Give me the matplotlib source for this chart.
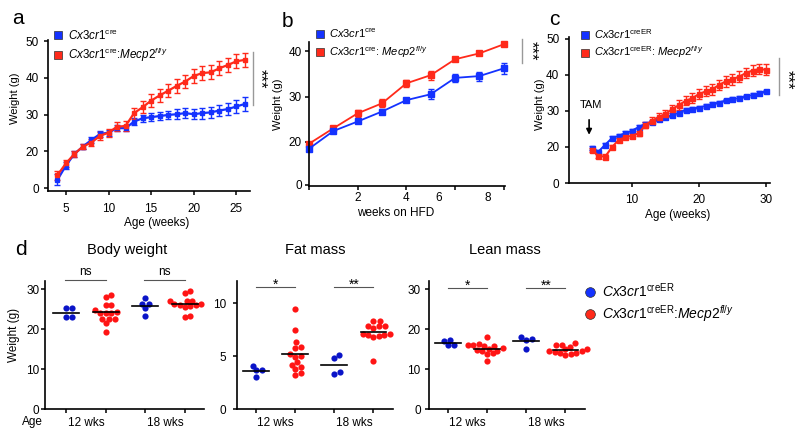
import numpy as np
import matplotlib
matplotlib.use('Agg')
import matplotlib.pyplot as plt
from matplotlib.lines import Line2D
from matplotlib.transforms import ScaledTranslation

plt.rcParams['font.family'] = ['Liberation Sans', 'DejaVu Sans']
plt.rcParams['mathtext.fontset'] = 'custom'
plt.rcParams['mathtext.rm'] = 'Liberation Sans'
plt.rcParams['mathtext.it'] = 'Liberation Sans:italic'
plt.rcParams['mathtext.bf'] = 'Liberation Sans:bold'

BLUE = '#1432ff'
RED = '#ff2a1a'
DOT_BLUE = '#0a14c8'
DOT_RED = '#ff1414'

# --- panel a: body weight on chow ---
weeks_a = np.arange(4, 27)
blue_a = [12.2, 16.1, 19.3, 21.3, 23.1, 24.7, 25.1, 26.3, 26.3, 28.1, 29.0, 29.3,
          29.6, 29.9, 30.1, 30.4, 30.1, 30.4, 30.6, 31.1, 31.5, 32.2, 32.9]
blue_a_err = [1.5, 1.0, 0.8, 0.8, 0.8, 0.8, 0.8, 0.8, 0.9, 1.0, 1.0, 1.1,
              1.2, 1.2, 1.3, 1.3, 1.4, 1.5, 1.5, 1.6, 1.7, 1.8, 1.8]
red_a = [13.5, 16.7, 19.3, 21.3, 22.4, 24.2, 25.1, 26.7, 26.9, 30.4, 32.0, 33.8,
         35.2, 36.5, 37.8, 39.0, 40.5, 41.3, 41.5, 42.6, 43.5, 44.5, 44.9]
red_a_err = [1.2, 0.9, 0.8, 0.8, 0.9, 1.0, 1.1, 1.2, 1.4, 1.5, 1.6, 1.7,
             1.7, 1.8, 1.8, 1.8, 1.8, 1.8, 1.9, 1.9, 1.9, 1.9, 1.9]

# --- panel b: high fat diet ---
weeks_b = np.arange(0, 9)
blue_b = [18.5, 22.4, 24.5, 26.7, 29.2, 30.5, 34.1, 34.5, 36.2]
blue_b_err = [0.6, 0.4, 0.4, 0.5, 0.5, 1.1, 0.9, 1.0, 1.2]
red_b = [19.6, 23.0, 26.3, 28.5, 32.9, 34.7, 38.2, 39.5, 41.5]
red_b_err = [0.4, 0.4, 0.8, 0.9, 0.7, 1.0, 0.4, 0.4, 0.4]

# --- panel c: tamoxifen induced ---
weeks_c = np.arange(4, 31)
blue_c = [19.7, 18.7, 20.6, 22.4, 23.1, 23.8, 24.5, 25.5, 26.4, 26.9, 27.7, 28.2, 28.8, 29.5,
          30.3, 30.6, 30.9, 31.4, 31.9, 32.3, 32.9, 33.3, 33.5, 34.0, 34.4, 34.9, 35.4]
blue_c_err = [0.5] * 27
red_c = [19.2, 17.5, 17.3, 19.9, 21.9, 22.7, 23.1, 23.8, 26.1, 27.3, 28.3, 29.2, 30.5, 31.6,
         32.8, 33.5, 34.7, 35.4, 36.0, 37.2, 38.2, 38.8, 39.5, 40.5, 41.2, 41.6, 41.4]
red_c_err = [0.5, 0.6, 0.7, 0.6, 0.6, 0.6, 0.7, 0.7, 0.8, 0.9, 1.0, 1.1, 1.2, 1.3,
             1.3, 1.4, 1.4, 1.4, 1.5, 1.5, 1.5, 1.5, 1.5, 1.5, 1.5, 1.5, 1.5]

# --- panel d: body composition (12 wks, 18 wks) ---
body_blue_12 = [25.2, 25.2, 22.9, 22.9]
body_red_12 = [28.1, 28.4, 25.9, 26.0, 24.7, 24.2, 24.1, 24.0, 24.1, 22.6, 22.6, 22.6, 21.5, 19.3]
body_blue_18 = [27.7, 26.2, 26.3, 25.2, 23.2]
body_red_18 = [29.6, 29.1, 27.1, 26.9, 27.1, 26.3, 25.9, 25.6, 25.8, 26.2, 26.0, 23.1, 23.2]
fat_blue_12 = [3.7, 3.7, 3.0, 4.1]
fat_red_12 = [9.5, 7.5, 6.3, 5.8, 5.9, 5.2, 4.9, 5.0, 4.4, 4.2, 4.0, 3.8, 3.2, 3.4]
fat_blue_18 = [4.8, 5.1, 3.3, 3.5]
fat_red_18 = [8.3, 8.3, 7.8, 7.8, 7.7, 7.8, 7.0, 7.1, 6.8, 7.0, 7.1, 6.9, 4.5]
lean_blue_12 = [16.9, 16.0, 16.0, 17.3]
lean_red_12 = [17.9, 16.3, 16.0, 15.8, 15.9, 15.7, 15.2, 15.0, 14.8, 14.6, 14.4, 13.9, 13.7, 12.0]
lean_blue_18 = [17.9, 17.6, 17.3, 15.1]
lean_red_18 = [16.4, 15.9, 15.6, 16.1, 15.0, 14.9, 14.6, 14.5, 14.3, 14.1, 14.0, 13.7, 13.4]

CX_CRE = r'$\mathit{Cx3cr1}^{\mathrm{cre}}$'
CX_CREER = r'$\mathit{Cx3cr1}^{\mathrm{creER}}$'
MECP = r'$\mathit{Mecp2}^{\mathit{fl/y}}$'
lab_cre_mecp = CX_CRE + ':' + MECP
lab_cre_mecp_sp = CX_CRE + ': ' + MECP
lab_creer_mecp_sp = CX_CREER + ': ' + MECP
lab_creer_mecp = CX_CREER + ':' + MECP

W, H = 800, 438
fig = plt.figure(figsize=(8, 4.38), dpi=100)


def px_axes(x0, y0, x1, y1):
    return fig.add_axes([x0 / W, 1 - y1 / H, (x1 - x0) / W, (y1 - y0) / H])


def style(ax, fs=8.5):
    for s in ('top', 'right'):
        ax.spines[s].set_visible(False)
    for s in ('left', 'bottom'):
        ax.spines[s].set_linewidth(1.2)
    ax.tick_params(length=3, width=1.1, labelsize=fs, direction='out')


def add_legend(ax, handles, labels, x, y, fs, spacing):
    ax.legend(handles, labels, loc='upper left', bbox_to_anchor=(x / W, 1 - y / H),
              bbox_transform=fig.transFigure, frameon=False, fontsize=fs,
              handlelength=0.7, handletextpad=0.5, labelspacing=spacing,
              borderpad=0, borderaxespad=0)


def square_handles(ms):
    return [Line2D([], [], ls='', marker='s', ms=ms, mfc=c, mec='#303030', mew=0.5)
            for c in (BLUE, RED)]


def curve(ax, x, y, err, color, ms, lw):
    ax.errorbar(x, y, yerr=err, color=color, marker='s', ms=ms, lw=lw, capsize=2,
                elinewidth=1, capthick=1, clip_on=False)


def sig_vertical(ax, x, y0, y1, xs, ys):
    ax.plot([x, x], [y0, y1], color='#999999', lw=1, clip_on=False)
    ax.text(xs, ys, '***', rotation=270, ha='center', va='center', fontsize=12,
            clip_on=False)


# ---------------- panel a ----------------
ax = px_axes(48, 40, 250, 191)
style(ax)
curve(ax, weeks_a, blue_a, blue_a_err, BLUE, 3.2, 1.6)
curve(ax, weeks_a, red_a, red_a_err, RED, 3.2, 1.6)
ax.set_xlim(2.9, 26.6)
ax.set_ylim(9.2, 50.3)
ax.set_xticks([5, 10, 15, 20, 25])
ax.set_yticks([10, 20, 30, 40, 50], ['0', '20', '30', '40', '50'])
ax.tick_params(axis='x', pad=6)
ax.set_xlabel('Age (weeks)', fontsize=8.5)
ax.set_ylabel('Weight (g)', fontsize=8)
ax.xaxis.set_label_coords(0.54, -0.172)
ax.yaxis.set_label_coords(-0.139, 0.616)
sig_vertical(ax, 27.0, 32.6, 47.0, 27.8, 39.8)
add_legend(ax, square_handles(6), [CX_CRE, lab_cre_mecp], 54, 28, 8.4, 0.3)

# ---------------- panel b ----------------
ax = px_axes(309, 42, 505, 186)
style(ax)
curve(ax, weeks_b, red_b, red_b_err, RED, 4.2, 1.3)
curve(ax, weeks_b, blue_b, blue_b_err, BLUE, 4.2, 1.3)
ax.set_xlim(0, 8.05)
ax.set_ylim(10.3, 42.0)
ax.set_xticks([0, 2, 4, 6, 8], ['', '2', '4', '6', '8'])
ax.set_yticks([10.6, 20, 30, 40], ['0', '20', '30', '40'])
ax.tick_params(axis='x', pad=1)
ax.tick_params(axis='y', pad=2)
shift = ScaledTranslation(-0.16, 0, fig.dpi_scale_trans)
for lbl in ax.get_xticklabels()[3:]:
    lbl.set_transform(lbl.get_transform() + shift)
ax.set_xlabel('weeks on HFD', fontsize=8.5)
ax.set_ylabel('Weight (g)', fontsize=8)
ax.xaxis.set_label_coords(0.44, -0.146)
ax.yaxis.set_label_coords(-0.133, 0.57)
sig_vertical(ax, 8.73, 37.4, 42.6, 9.14, 40.0)
add_legend(ax, square_handles(6), [CX_CRE, lab_cre_mecp_sp], 316, 27, 8, 0.35)

# ---------------- panel c ----------------
ax = px_axes(569, 37, 770, 183)
style(ax)
curve(ax, weeks_c, blue_c, blue_c_err, BLUE, 3.6, 1.5)
curve(ax, weeks_c, red_c, red_c_err, RED, 3.6, 1.5)
ax.set_xlim(0.6, 30.6)
ax.set_ylim(10, 50.5)
ax.set_xticks([10, 20, 30])
ax.set_yticks([10, 20, 30, 40, 50], ['0', '20', '30', '40', '50'])
ax.tick_params(axis='x', pad=5)
ax.tick_params(axis='y', pad=4)
ax.set_xlabel('Age (weeks)', fontsize=8.5)
ax.set_ylabel('Weight (g)', fontsize=8)
ax.xaxis.set_label_coords(0.542, -0.175)
ax.yaxis.set_label_coords(-0.118, 0.54)
sig_vertical(ax, 31.9, 34.4, 44.7, 33.1, 38.6)
ax.text(3.9, 31.7, 'TAM', ha='center', va='center', fontsize=8)
ax.annotate('', xy=(3.6, 22.6), xytext=(3.6, 28.3),
            arrowprops=dict(arrowstyle='-|>', color='black', lw=1.2, mutation_scale=8))
add_legend(ax, square_handles(6), [CX_CREER, lab_creer_mecp_sp], 581, 27, 8, 0.35)


# ---------------- panel d ----------------
def swarm_offsets(vals, ppu_x, ppu_y, diam=5.4, step=0.6):
    vals = np.asarray(vals, dtype=float)
    order = np.argsort(vals)
    placed = []
    offs = np.zeros(len(vals))
    cands = [0.0]
    for k in range(1, 80):
        cands += [k * step, -k * step]
    for i in order:
        y = vals[i] * ppu_y
        for c in cands:
            if all((c - px) ** 2 + (y - py) ** 2 >= diam ** 2 for px, py in placed):
                break
        placed.append((c, y))
        offs[i] = c / ppu_x
    return offs


def dot_panel(ax, groups, ppu_x, ppu_y):
    colors = [DOT_BLUE, DOT_RED, DOT_BLUE, DOT_RED]
    for pos, vals, col in zip([1, 2, 3, 4], groups, colors):
        offs = swarm_offsets(vals, ppu_x, ppu_y)
        ax.scatter(pos + offs, vals, s=20, color=col, lw=0, zorder=3, clip_on=False)
        ax.plot([pos - 0.33, pos + 0.33], [np.mean(vals)] * 2, color='black', lw=1.2, zorder=4)
    ax.set_xticks([1, 2, 3, 4], [])
    ax.set_xticks([1.5, 3.5], ['12 wks', '18 wks'], minor=True)
    ax.tick_params(axis='x', which='minor', length=0, pad=6, labelsize=8.5)


def sig_bar(ax, x0, x1, y, text, ty, fs):
    ax.plot([x0, x1], [y, y], color='#555555', lw=0.8, clip_on=False)
    ax.text((x0 + x1) / 2, ty, text, ha='center', va='center', fontsize=fs, clip_on=False)


ax = px_axes(45, 281, 204, 409)
style(ax)
dot_panel(ax, [body_blue_12, body_red_12, body_blue_18, body_red_18], 39.5, 4.03)
ax.set_xlim(0.47, 4.48)
ax.set_ylim(0, 32)
ax.set_yticks([0, 10, 20, 30])
ax.tick_params(axis='y', pad=1)
ax.set_ylabel('Weight (g)', fontsize=8.5)
ax.yaxis.set_label_coords(-0.157, 0.578)
ax.text(0.516, 1.24, 'Body weight', transform=ax.transAxes, ha='center', va='center', fontsize=10.5)
sig_bar(ax, 0.97, 2.0, 32.3, 'ns', 34.3, 8.5)
sig_bar(ax, 2.97, 4.0, 32.3, 'ns', 34.3, 8.5)

ax = px_axes(237, 281, 393, 409)
style(ax)
dot_panel(ax, [fat_blue_12, fat_red_12, fat_blue_18, fat_red_18], 39.0, 10.6)
ax.set_xlim(0.51, 4.5)
ax.set_ylim(0, 12.1)
ax.set_yticks([0, 5, 10])
ax.tick_params(axis='y', pad=5)
ax.text(0.5, 1.24, 'Fat mass', transform=ax.transAxes, ha='center', va='center', fontsize=10.5)
sig_bar(ax, 1.0, 2.0, 11.5, '*', 11.7, 10)
sig_bar(ax, 3.0, 4.0, 11.5, '**', 11.7, 10)

ax = px_axes(429, 281, 585, 409)
style(ax)
dot_panel(ax, [lean_blue_12, lean_red_12, lean_blue_18, lean_red_18], 39.0, 4.03)
ax.set_xlim(0.51, 4.5)
ax.set_ylim(0, 32)
ax.set_yticks([0, 10, 20, 30])
ax.tick_params(axis='y', pad=3)
ax.text(0.487, 1.24, 'Lean mass', transform=ax.transAxes, ha='center', va='center', fontsize=10.5)
sig_bar(ax, 1.0, 2.0, 30.3, '*', 30.8, 10)
sig_bar(ax, 3.0, 4.0, 30.3, '**', 30.8, 10)
circ = [Line2D([], [], ls='', marker='o', ms=7, mfc=c, mec='#303030', mew=0.5)
        for c in (BLUE, RED)]
add_legend(ax, circ, [CX_CREER, lab_creer_mecp], 585, 281, 10, 0.25)

fig.text(32 / W, 1 - 422 / H, 'Age', ha='center', va='center', fontsize=8.5)

for lab, x, y in [('a', 18, 24), ('b', 287, 27), ('c', 554, 25), ('d', 21, 255)]:
    fig.text(x / W, 1 - y / H, lab, ha='center', va='baseline', fontsize=15)

fig.savefig('out.png', dpi=100)
